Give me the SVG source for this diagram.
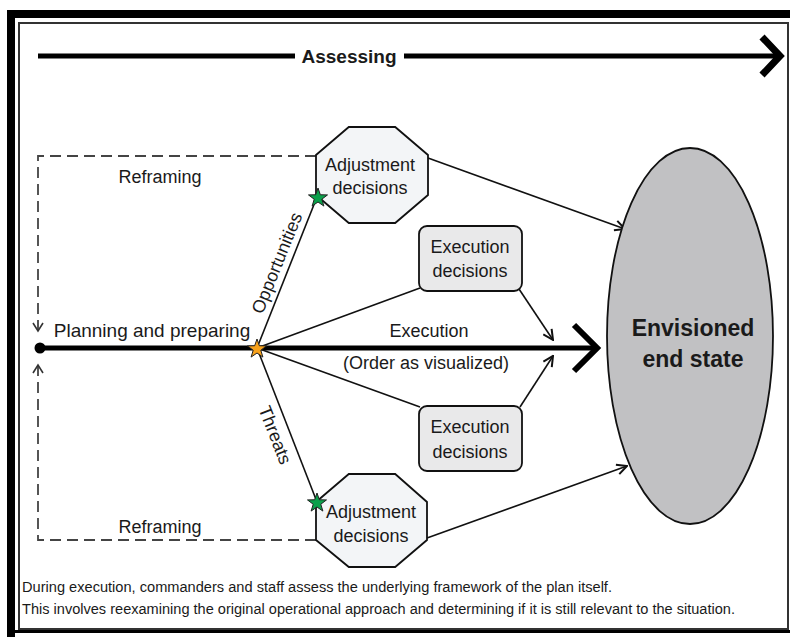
<svg xmlns="http://www.w3.org/2000/svg" width="792" height="637" viewBox="0 0 792 637">
<defs>
<style>
text{font-family:"Liberation Sans",Arial,sans-serif;fill:#1a1a1a}
.lbl{font-size:18px}
.mid{text-anchor:middle}
.bold{font-weight:bold}
.cap{font-size:14px}
.thin{stroke:#111;stroke-width:1.6;fill:none}
.dash{stroke:#444;stroke-width:1.8;fill:none;stroke-dasharray:11 6}
.oct{fill:#f3f5f7;stroke:#111;stroke-width:1.8}
.exe{fill:#e9e9ea;stroke:#111;stroke-width:1.8}
</style>
<marker id="v" viewBox="0 0 12 12" markerWidth="12" markerHeight="12" refX="11" refY="6" orient="auto" markerUnits="userSpaceOnUse">
<path d="M1,1 L11,6 L1,11" fill="none" stroke="#111" stroke-width="2"/>
</marker>
<polygon id="star" points="0,-10 2.35,-3.24 9.51,-3.09 3.8,1.24 5.88,8.09 0,4 -5.88,8.09 -3.8,1.24 -9.51,-3.09 -2.35,-3.24" stroke="#222" stroke-width="1"/>
</defs>
<rect width="792" height="637" fill="#fff"/>
<g id="frame">
<rect x="7" y="10" width="783" height="8" fill="#000"/>
<rect x="7" y="10" width="8" height="627" fill="#000"/>
<rect x="19" y="23" width="769" height="606" fill="none" stroke="#333" stroke-width="2"/>
<line x1="15" y1="631.5" x2="790" y2="631.5" stroke="#000" stroke-width="3"/>
</g>
<g id="assessing">
<line x1="38" y1="56" x2="295" y2="56" stroke="#000" stroke-width="5"/>
<line x1="404" y1="56" x2="776" y2="56" stroke="#000" stroke-width="5"/>
<path d="M762,37 L780,56 L762,75" fill="none" stroke="#000" stroke-width="7"/>
<text x="349" y="63" class="mid bold" font-size="19">Assessing</text>
</g>
<g id="connectors">
<line x1="40" y1="348" x2="593" y2="348" stroke="#000" stroke-width="5"/>
<circle cx="40" cy="348" r="5.5" fill="#000"/>
<path d="M574,325 L597,348 L574,371" fill="none" stroke="#000" stroke-width="6"/>
<line class="thin" x1="257" y1="348" x2="317" y2="197"/>
<line class="thin" x1="257" y1="348" x2="317" y2="502"/>
<line class="thin" x1="257" y1="348" x2="420" y2="288"/>
<line class="thin" x1="257" y1="348" x2="420" y2="407"/>
<line class="thin" x1="519" y1="289" x2="553" y2="340" marker-end="url(#v)"/>
<line class="thin" x1="520" y1="407" x2="553" y2="356" marker-end="url(#v)"/>
<line class="thin" x1="428" y1="158" x2="625" y2="229" marker-end="url(#v)"/>
<line class="thin" x1="427" y1="538" x2="627" y2="466" marker-end="url(#v)"/>
<path class="dash" d="M316,156 L38,156 L38,330"/>
<path d="M33,323 L38,331 L43,323" fill="none" stroke="#333" stroke-width="1.6"/>
<path class="dash" d="M316,540 L38,540 L38,366"/>
<path d="M33,373 L38,365 L43,373" fill="none" stroke="#333" stroke-width="1.6"/>
<text x="160" y="183" class="lbl mid">Reframing</text>
<text x="160" y="533" class="lbl mid">Reframing</text>
<text x="152" y="337" class="mid" font-size="19">Planning and preparing</text>
<text x="429" y="337" class="lbl mid">Execution</text>
<text x="426" y="369" class="lbl mid">(Order as visualized)</text>
<text class="lbl mid" transform="translate(277,263) rotate(-68)" y="6">Opportunities</text>
<text class="lbl mid" transform="translate(275,435) rotate(68.7)" y="6">Threats</text>
</g>
<g id="adj-top">
<polygon class="oct" points="348.8,127 395.2,127 428,155 428,195 395.2,223 348.8,223 316,195 316,155"/>
<text x="370" y="171" class="lbl mid">Adjustment</text>
<text x="370" y="194" class="lbl mid">decisions</text>
</g>
<g id="adj-bottom">
<polygon class="oct" points="348.8,474 395.2,474 427,502 427,540 395.2,567 348.8,567 316,540 316,502"/>
<text x="371" y="518" class="lbl mid">Adjustment</text>
<text x="371" y="542" class="lbl mid">decisions</text>
</g>
<g id="exe-top">
<rect class="exe" x="419" y="226" width="103" height="65" rx="8"/>
<text x="470" y="253" class="lbl mid">Execution</text>
<text x="470" y="277" class="lbl mid">decisions</text>
</g>
<g id="exe-bottom">
<rect class="exe" x="419" y="406" width="103" height="65" rx="8"/>
<text x="470" y="433" class="lbl mid">Execution</text>
<text x="470" y="458" class="lbl mid">decisions</text>
</g>
<g id="end-state">
<ellipse cx="690" cy="336" rx="83" ry="188" fill="#c1c1c3" stroke="#111" stroke-width="1.8"/>
<text x="693" y="336" class="mid bold" font-size="23">Envisioned</text>
<text x="693" y="367" class="mid bold" font-size="23">end state</text>
</g>
<g id="stars">
<use href="#star" x="257" y="349" fill="#f7a11a"/>
<use href="#star" x="318" y="198" fill="#0aa04a"/>
<use href="#star" x="317" y="503" fill="#0aa04a"/>
</g>
<g id="caption">
<text x="22" y="592" class="cap" textLength="590" lengthAdjust="spacingAndGlyphs">During execution, commanders and staff assess the underlying framework of the plan itself.</text>
<text x="22" y="614" class="cap" textLength="713" lengthAdjust="spacingAndGlyphs">This involves reexamining the original operational approach and determining if it is still relevant to the situation.</text>
</g>
</svg>
